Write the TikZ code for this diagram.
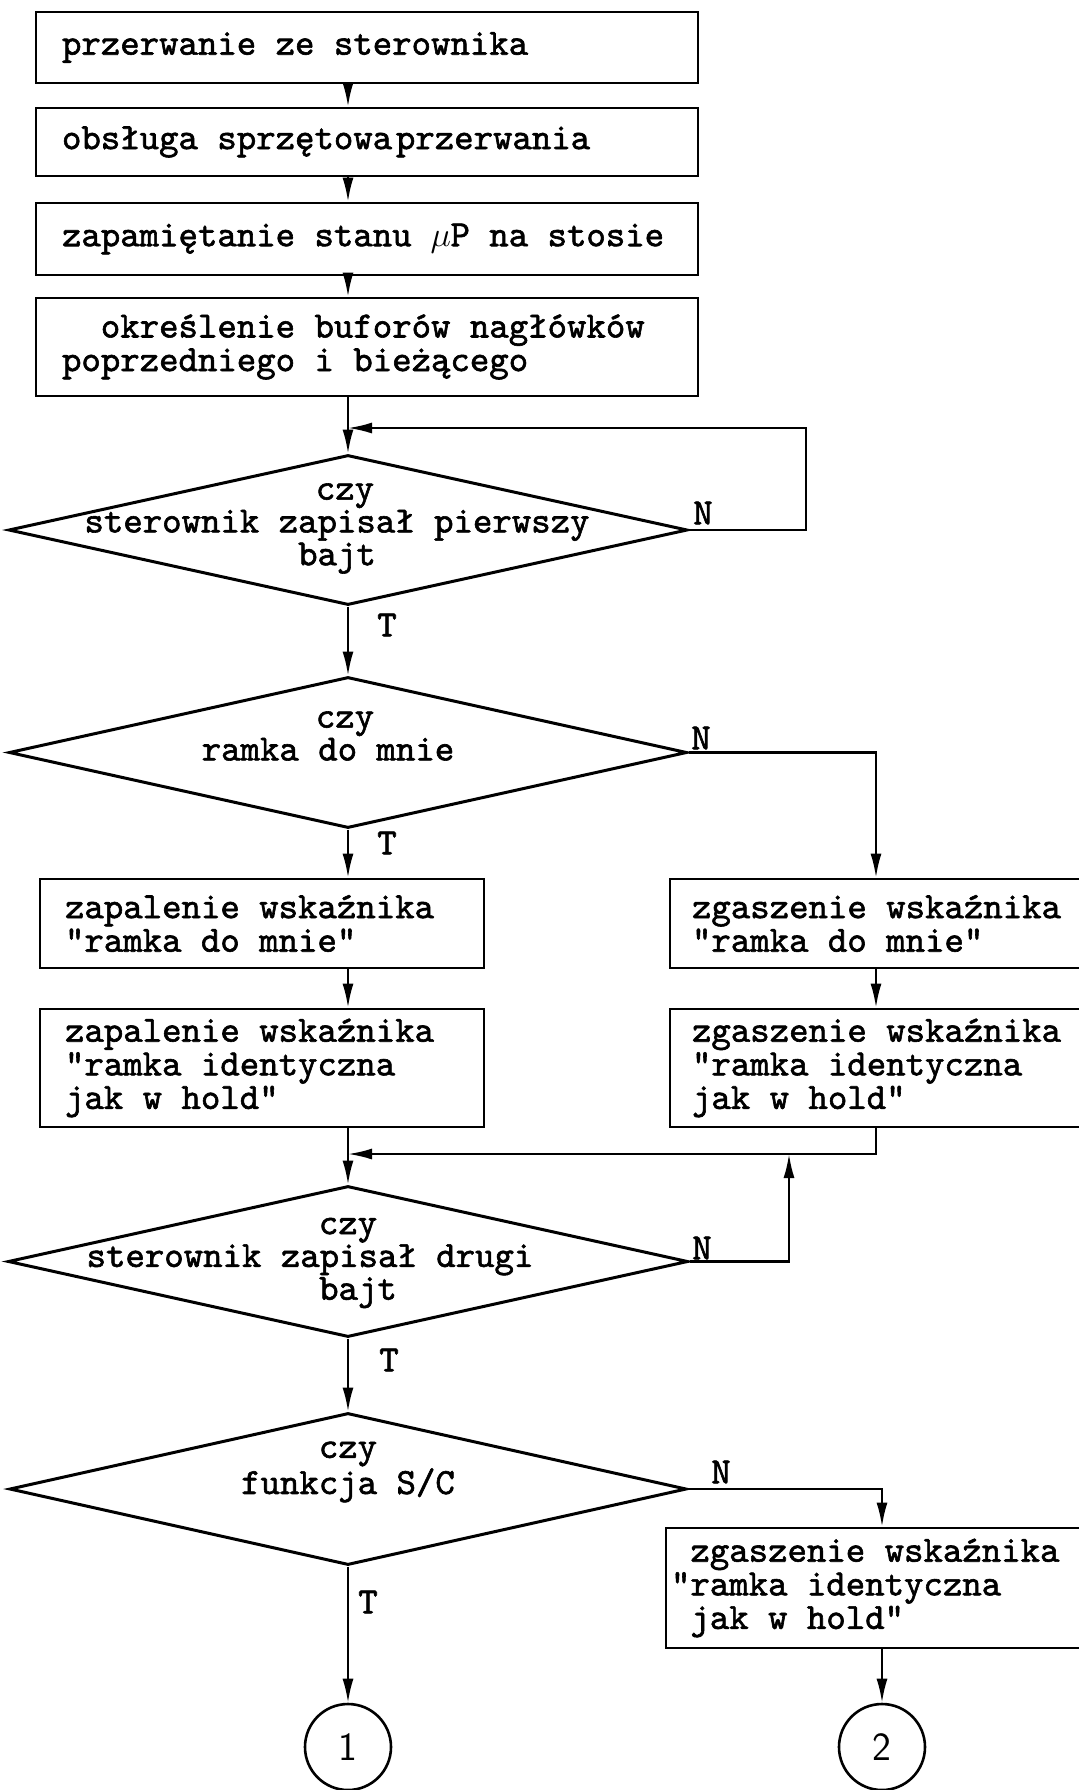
\documentclass[tikz,border=0pt]{standalone}
\usepackage{fontspec}
\usetikzlibrary{shapes.geometric,arrows.meta,calc}
% typewriter face, slightly emboldened
\newfontface\typer{lmmono10-regular.otf}[FakeBold=1.6]
\newcommand{\tabsp}{\hspace*{0.525em}}
\newcommand{\mono}{\spaceskip=0.525em\xspaceskip=0.525em\relax}
\begin{document}
\begin{tikzpicture}[x=0.5pt,y=-0.5pt,
  every node/.style={font=\typer\fontsize{18.5}{16.8}\selectfont},
  box/.style={draw, line width=1.4pt, rectangle, align=left, inner ysep=0pt},
  dec/.style={draw, diamond, line width=1.5pt, inner sep=0pt},
  dtext/.style={align=center, inner sep=0pt, font=\typer\fontsize{18.5}{16.4}\selectfont},
  lbl/.style={inner sep=0pt},
  conn/.style={line width=1.1pt},
  arr/.style={conn, -{Latex[length=12pt,width=5.5pt]}},
  term/.style={draw, circle, line width=1.3pt, minimum size=43pt, inner sep=0pt,
    font=\sffamily\fontsize{20}{20}\selectfont}]

% page frame
\fill[white] (0,0) rectangle (1079,1790);
\useasboundingbox (0,0) rectangle (1079,1790);

% upper chain of actions
\node[box, text width=305pt, inner xsep=13pt, minimum height=35.5pt] (b1) at (367,47.5)
  {\mono przerwanie ze sterownika};
\node[box, text width=305pt, inner xsep=13pt, minimum height=34pt] (b2) at (367,142)
  {\mono obsługa sprzętowa\hspace{0.1em}przerwania};
\node[box, text width=305pt, inner xsep=13pt, minimum height=36pt] (b3) at (367,239)
  {\mono zapamiętanie stanu \makebox[0.525em]{$\mu$}P na stosie};
\node[box, text width=305pt, inner xsep=13pt, minimum height=49pt] (b4) at (367,347)
  {\mono\tabsp\tabsp określenie buforów nagłówków\\poprzedniego i bieżącego};

% decision 1
\node[dec, minimum width=339.5pt, minimum height=75pt] (d1) at (348,530) {};
\node[dtext] (t1) at (337,528.5) {\hspace*{8pt}czy\\sterownik zapisał pierwszy\\bajt};
\node[lbl] (n1) at (703,513) {N};
\node[lbl] (y1) at (387,625) {T};

% decision 2
\node[dec, minimum width=339pt, minimum height=75.5pt] (d2) at (348,752.5) {};
\node[dtext] (t2) at (328,736) {\hspace*{17pt}czy\\ramka do mnie};
\node[lbl] (n2) at (701,738) {N};
\node[lbl] (y2) at (387,843) {T};

% two branches
\node[box, text width=197pt, inner xsep=12.5pt, minimum height=44.5pt] (l1) at (262,923.5)
  {\mono zapalenie wskaźnika\\"ramka do mnie"};
\node[box, text width=197pt, inner xsep=12.5pt, minimum height=59pt] (l2) at (262,1068)
  {\mono zapalenie wskaźnika\\"ramka identyczna\\jak w hold"};
\node[box, text width=203pt, inner xsep=11pt, minimum height=44.5pt] (r1) at (895,923.5)
  {\mono zgaszenie wskaźnika\\"ramka do mnie"};
\node[box, text width=203pt, inner xsep=11pt, minimum height=59pt] (r2) at (895,1068)
  {\mono zgaszenie wskaźnika\\"ramka identyczna\\jak w hold"};

% decision 3
\node[dec, minimum width=340pt, minimum height=75.5pt] (d3) at (348,1261.5) {};
\node[dtext] (t3) at (310,1263) {\hspace*{38pt}czy\\sterownik zapisał drugi\\\hspace*{48pt}bajt};
\node[lbl] (n3) at (702,1248) {N};
\node[lbl] (y3) at (389,1360) {T};

% decision 4
\node[dec, minimum width=338.5pt, minimum height=76pt] (d4) at (348,1489) {};
\node[dtext] (t4) at (348,1472) {czy\\funkcja S/C};
\node[lbl] (n4) at (721,1472) {N};
\node[lbl] (y4) at (368,1602) {T};

\node[box, text width=222pt, inner xsep=2.5pt, minimum height=60pt] (r3) at (893,1588)
  {\mono\tabsp zgaszenie wskaźnika\\"ramka identyczna\\\tabsp jak w hold"};

% off-page connectors
\node[term] (c1) at (348,1747) {1};
\node[term] (c2) at (882,1747) {2};

\coordinate (rcol) at (876,0);
\coordinate (rcol2) at (882,0);
\coordinate (j1) at (348,428);
\coordinate (j2) at (348,1154);
\coordinate (j3) at (789,1154);

\draw[arr] (b1.south -| d1.north) -- (b2.north -| d1.north);
\draw[arr] (b2.south -| d1.north) -- (b3.north -| d1.north);
\draw[arr] (b3.south -| d1.north) -- (b4.north -| d1.north);
\draw[arr] (b4.south -| d1.north) -- (d1.north);
\draw[arr] (d1.east) -- ++(117,0) |- (j1);
\draw[arr] (d1.south) -- (d2.north);
\draw[arr] (d2.east) -| (r1.north -| rcol);
\draw[arr] (d2.south) -- (l1.north -| d2.south);
\draw[arr] (l1.south -| d2.south) -- (l2.north -| d2.south);
\draw[arr] (r1.south -| rcol) -- (r2.north -| rcol);
\draw[arr] (l2.south -| d3.north) -- (d3.north);
\draw[arr] (r2.south -| rcol) |- (j2);
\draw[arr] (d3.east) -| (j3);
\draw[arr] (d3.south) -- (d4.north);
\draw[arr] (d4.east) -| (r3.north -| rcol2);
\draw[arr] (d4.south) -- (c1.north);
\draw[arr] (r3.south -| rcol2) -- (c2.north);
\end{tikzpicture}
\end{document}
